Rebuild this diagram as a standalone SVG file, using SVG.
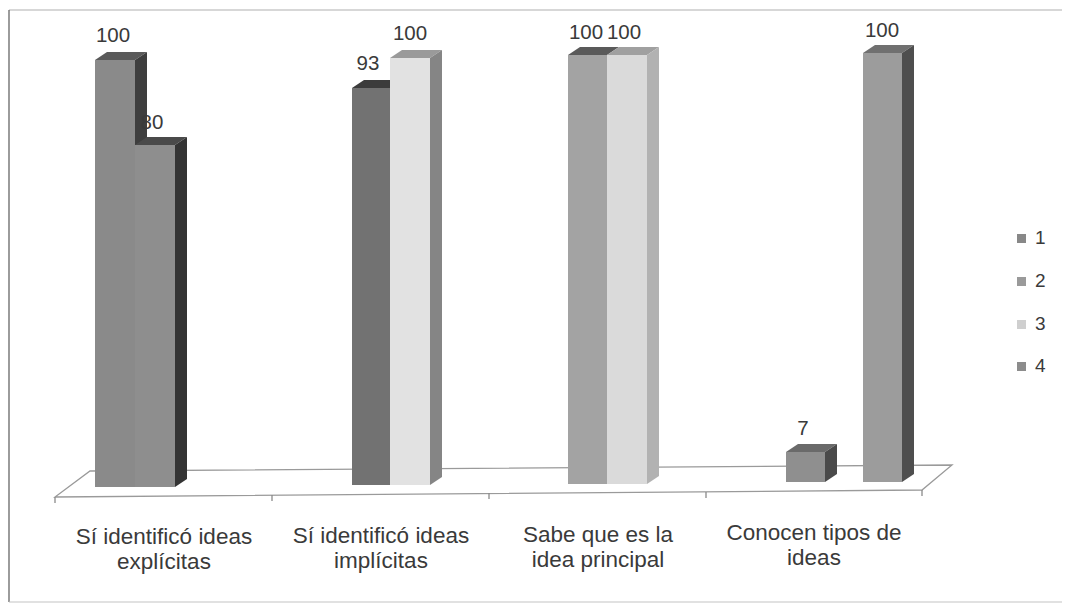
<svg xmlns="http://www.w3.org/2000/svg" width="1068" height="609" viewBox="0 0 1068 609">
<style>
.lbl{font-family:"Liberation Sans",Arial,sans-serif;font-size:20.5px;fill:#3a3a3a;text-anchor:middle}
.cat{font-family:"Liberation Sans",Arial,sans-serif;font-size:22.5px;fill:#3a3a3a;text-anchor:middle}
.leg{font-family:"Liberation Sans",Arial,sans-serif;font-size:19px;fill:#3a3a3a}
.floor{fill:none;stroke:#9a9a9a;stroke-width:1.3}
.tick{stroke:#8a8a8a;stroke-width:1.3}
</style>
<rect x="0" y="0" width="1068" height="609" fill="#ffffff"/>
<g id="frame">
<line x1="9" y1="10" x2="1062" y2="10" stroke="#b0b0b0" stroke-width="1.2"/>
<line x1="9" y1="10" x2="9" y2="602" stroke="#666" stroke-width="1.3"/>
<line x1="9" y1="602" x2="1062" y2="602" stroke="#c4c4c4" stroke-width="1.2"/>
</g>
<g id="floor">
<polygon class="floor" points="55,497 922,490 952,465 90,471"/>
<line class="tick" x1="55" y1="497" x2="55" y2="503"/>
<line class="tick" x1="272" y1="495" x2="272" y2="501"/>
<line class="tick" x1="489" y1="493" x2="489" y2="499"/>
<line class="tick" x1="706" y1="492" x2="706" y2="498"/>
<line class="tick" x1="922" y1="490" x2="922" y2="496"/>
</g>
<g id="cat1">
<g id="bar-c1-s1">
<polygon points="95,60 135,60 147,52 107,52" fill="#5a5a5a"/>
<polygon points="135,60 147,52 147,479 135,487" fill="#3e3e3e"/>
<rect x="95" y="60" width="40" height="427" fill="#8a8a8a"/>
</g>
<g id="bar-c1-s2">
<polygon points="135,145 175,145 187,137 147,137" fill="#4a4a4a"/>
<polygon points="175,145 187,137 187,479 175,487" fill="#343434"/>
<rect x="135" y="145" width="40" height="342" fill="#8e8e8e"/>
</g>
</g>
<g id="cat2">
<g id="bar-c2-s2">
<polygon points="352,88 390,88 402,80 364,80" fill="#3c3c3c"/>
<rect x="352" y="88" width="38" height="397" fill="#727272"/>
</g>
<g id="bar-c2-s3">
<polygon points="390,58 430,58 442,50 402,50" fill="#9a9a9a"/>
<polygon points="430,58 442,50 442,477 430,485" fill="#858585"/>
<rect x="390" y="58" width="40" height="427" fill="#e2e2e2"/>
</g>
</g>
<g id="cat3">
<g id="bar-c3-s2">
<polygon points="568,55 607,55 619,47 580,47" fill="#5a5a5a"/>
<rect x="568" y="55" width="39" height="429" fill="#a3a3a3"/>
</g>
<g id="bar-c3-s3">
<polygon points="607,55 647,55 659,47 619,47" fill="#a0a0a0"/>
<polygon points="647,55 659,47 659,476 647,484" fill="#b2b2b2"/>
<rect x="607" y="55" width="40" height="429" fill="#dadada"/>
</g>
</g>
<g id="cat4">
<g id="bar-c4-s2">
<polygon points="786,452 825,452 837,444 798,444" fill="#6a6a6a"/>
<polygon points="825,452 837,444 837,474 825,482" fill="#4a4a4a"/>
<rect x="786" y="452" width="39" height="30" fill="#8f8f8f"/>
</g>
<g id="bar-c4-s4">
<polygon points="863,53 902,53 914,45 875,45" fill="#707070"/>
<polygon points="902,53 914,45 914,474 902,482" fill="#4e4e4e"/>
<rect x="863" y="53" width="39" height="429" fill="#9c9c9c"/>
</g>
</g>
<g id="data-labels">
<text class="lbl" x="113" y="42">100</text>
<text class="lbl" x="152" y="129">80</text>
<text class="lbl" x="368" y="70">93</text>
<text class="lbl" x="410" y="40">100</text>
<text class="lbl" x="586" y="39">100</text>
<text class="lbl" x="624" y="39">100</text>
<text class="lbl" x="882" y="37">100</text>
<text class="lbl" x="803" y="435">7</text>
</g>
<g id="category-labels">
<text class="cat" x="164" y="544">Sí identificó ideas</text>
<text class="cat" x="164" y="569">explícitas</text>
<text class="cat" x="381" y="543">Sí identificó ideas</text>
<text class="cat" x="381" y="568">implícitas</text>
<text class="cat" x="598" y="542">Sabe que es la</text>
<text class="cat" x="598" y="567">idea principal</text>
<text class="cat" x="814" y="540">Conocen tipos de</text>
<text class="cat" x="814" y="565">ideas</text>
</g>
<g id="legend">
<rect x="1017" y="234" width="9" height="9" fill="#888"/>
<text class="leg" x="1035" y="244">1</text>
<rect x="1017" y="277" width="9" height="9" fill="#9a9a9a"/>
<text class="leg" x="1035" y="287">2</text>
<rect x="1017" y="320" width="9" height="9" fill="#cfcfcf"/>
<text class="leg" x="1035" y="330">3</text>
<rect x="1017" y="362" width="9" height="9" fill="#8c8c8c"/>
<text class="leg" x="1035" y="372">4</text>
</g>
</svg>
